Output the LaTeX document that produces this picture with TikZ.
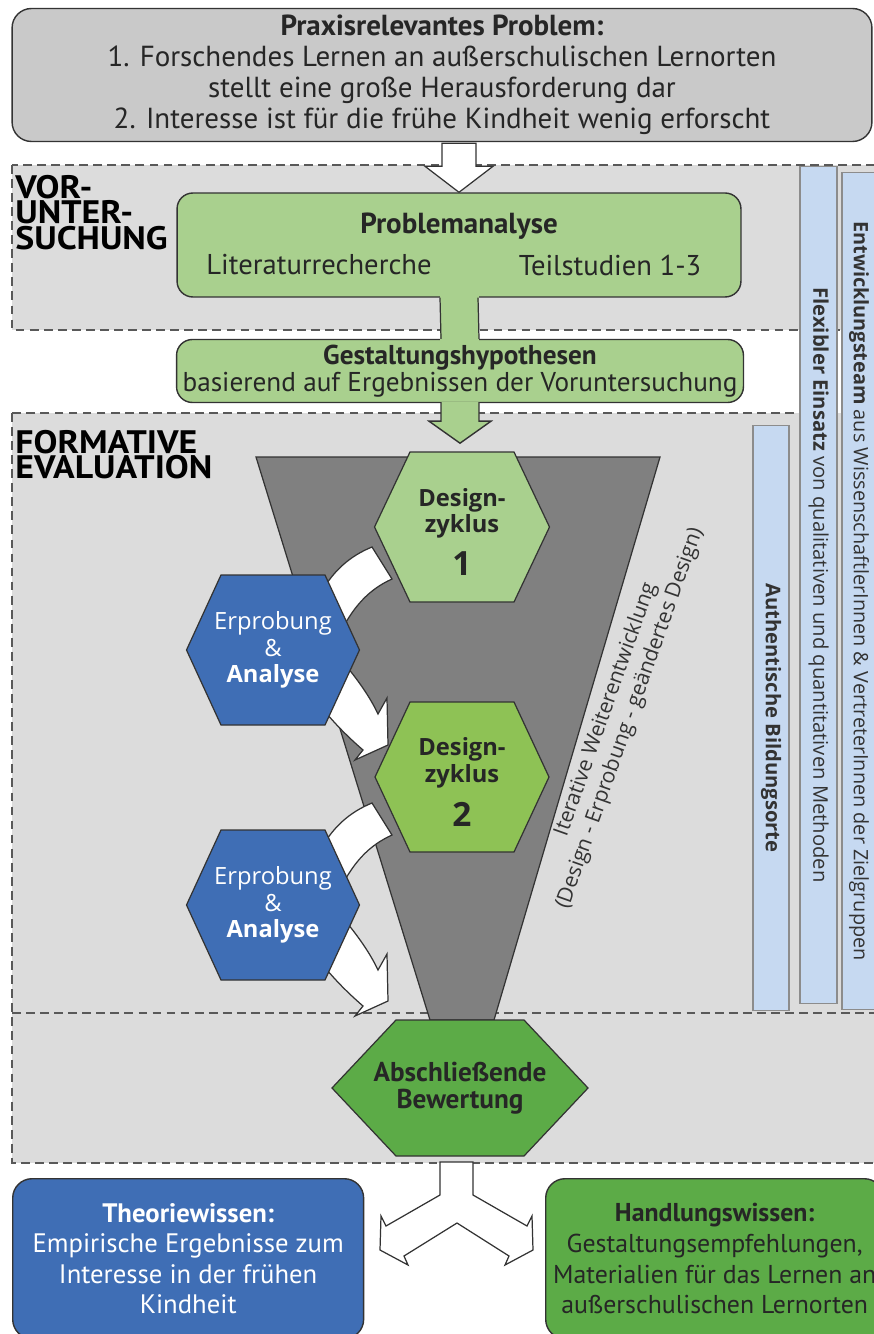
\documentclass[tikz,border=0pt]{standalone}
\usepackage{fontspec}
\setmainfont{PT Sans}
\newfontfamily\hexfont{Open Sans}
\usetikzlibrary{calc,positioning}

\definecolor{boxgray}{HTML}{C9C9C9}
\definecolor{regiongray}{HTML}{DCDCDC}
\definecolor{lightgreen}{HTML}{A9D08E}
\definecolor{midgreen}{HTML}{8EC255}
\definecolor{darkgreen}{HTML}{5CAB47}
\definecolor{hexblue}{HTML}{3F6EB5}
\definecolor{barblue}{HTML}{C6D9F1}
\definecolor{funnelgray}{HTML}{808080}

\begin{document}
\begin{tikzpicture}
  [x=0.02cm,y=-0.02cm,
   region/.style={fill=regiongray,draw=black!65,dash pattern=on 5pt off 3pt,line width=0.7pt},
   phaselabel/.style={anchor=north west,align=left,inner sep=0pt,xscale=1.1,transform shape,
     font=\bfseries\fontsize{18.5}{14.4}\selectfont},
   roundbox/.style={draw=black!80,line width=0.8pt,rounded corners=11pt,align=center,inner sep=0pt,text=black!85},
   hexline/.style={draw=black!80,line width=0.7pt},
   hextext/.style={align=center,font=\hexfont\fontsize{13.5}{15}\selectfont},
   whitearrow/.style={fill=white,draw=black!80,line width=0.7pt},
   greenarrow/.style={fill=lightgreen,draw=black!80,line width=0.8pt},
   sidebar/.style={fill=barblue,draw=black!45,line width=0.6pt,inner sep=0pt,rotate=-90,
     font=\hexfont\fontsize{11.5}{13}\selectfont,text=black!80}]
  \useasboundingbox (0,0) rectangle (874,1334);
  \clip (0,0) rectangle (874,1334);

  % phases
  \draw[region] (12,165) rectangle (890,330);
  \draw[region] (12,413) rectangle (890,1163);
  \draw[region] (12,1013) -- (890,1013);
  \node[phaselabel] (vu) at (15,175) {VOR-\\UNTER-\\SUCHUNG};
  \node[phaselabel] (fe) at (15,430) {FORMATIVE\\EVALUATION};

  % problem and analysis
  \node[roundbox,fill=boxgray,minimum width=17.2cm,minimum height=2.66cm,font=\fontsize{16.5}{17.6}\selectfont] (prob) at (442,75)
    {\textbf{Praxisrelevantes Problem:}\\1. Forschendes Lernen an außerschulischen Lernorten\\stellt eine große Herausforderung dar\\2. Interesse ist für die frühe Kindheit wenig erforscht};
  \node[roundbox,fill=lightgreen,rounded corners=9pt,minimum width=11.28cm,minimum height=2.08cm] (pa) at (459,245) {};
  \node[font=\bfseries\fontsize{16.5}{18}\selectfont,text=black!85] (pat) at (459,226) {Problemanalyse};
  \node[font=\fontsize{16.3}{18}\selectfont,text=black!85] (lit) at (319,265) {Literaturrecherche};
  \node[font=\fontsize{16.3}{18}\selectfont,text=black!85] (teil) at (610,265) {Teilstudien 1-3};
  \node[roundbox,fill=lightgreen,rounded corners=9pt,minimum width=11.34cm,minimum height=1.26cm,font=\fontsize{15.5}{15.5}\selectfont] (gh) at (460,371)
    {\textbf{Gestaltungshypothesen}\\basierend auf Ergebnissen der Voruntersuchung};

  \draw[whitearrow] (pa.north) -- ++(-34,-26) -- ++(17,0) -- ($(pa.north |- prob.south)+(-17,1)$)
    -- ($(pa.north |- prob.south)+(17,1)$) -- ($(pa.north)+(17,-26)$) -- ++(17,0) -- cycle;
  \fill[lightgreen] ($(pa.south)+(-19,-2)$) rectangle ($(gh.north)+(19,2)$);
  \draw[hexline] ($(pa.south)+(-19,0)$) -- ($(gh.north)+(-19,0)$) ($(pa.south)+(19,0)$) -- ($(gh.north)+(19,0)$);
  \draw[greenarrow] ($(gh.south)+(-19,-1)$) -- ($(gh.south)+(-19,18)$) -- ($(gh.south)+(-31,18)$) -- ($(gh.south)+(0,40)$)
    -- ($(gh.south)+(31,18)$) -- ($(gh.south)+(19,18)$) -- ($(gh.south)+(19,-1)$);

  % funnel
  \draw[fill=funnelgray,draw=black!80,line width=0.7pt] (256,457) -- (660,457) -- (494,1020) -- (430,1020) -- cycle;
  \node[rotate=70.5,align=center,font=\hexfont\fontsize{12}{14.5}\selectfont,text=black!80] (iter) at (618,714)
    {Iterative Weiterentwicklung\\(Design - Erprobung - geändertes Design)};

  % cycle arrows
  \foreach \dy in {0,256}
  {
    \begin{scope}[shift={(0,\dy)}]
      \draw[whitearrow] (372,547) .. controls (350,556) and (332,571) .. (318,598) -- (337,640)
        .. controls (352,606) and (370,589) .. (392,579) -- cycle;
      \draw[whitearrow] (343,662) .. controls (358,680) and (370,697) .. (378,714) -- (387,698) -- (388,745)
        -- (355,760) -- (363,750) .. controls (348,737) and (335,724) .. (322,708) -- cycle;
    \end{scope}
  }

  % hexagons
  \foreach \n/\x/\y/\w/\t/\h/\c in {dz1/462/527/87.5/52/75/lightgreen,ea1/273/650/86.5/52/75/hexblue,
      dz2/462/777/87/52/75/midgreen,ea2/273/905/86.5/52/75/hexblue,ab/460/1088/128/64/68/darkgreen}
  {
    \coordinate (\n) at (\x,\y);
    \draw[hexline,fill=\c] (\n) +(-\w,0) -- +(-\t,-\h) -- +(\t,-\h) -- +(\w,0) -- +(\t,\h) -- +(-\t,\h) -- cycle;
  }
  \node[hextext,text=black!85] (dz1t) at ($(dz1)+(0,5)$) {\textbf{Design-}\\\textbf{zyklus}\\[7pt]{\fontsize{19}{19}\selectfont\textbf{1}}};
  \node[hextext,text=white] (ea1t) at (ea1) {Erprobung\\\&\\\textbf{Analyse}};
  \node[hextext,text=black!85] (dz2t) at ($(dz2)+(0,5)$) {\textbf{Design-}\\\textbf{zyklus}\\[7pt]{\fontsize{19}{19}\selectfont\textbf{2}}};
  \node[hextext,text=white] (ea2t) at (ea2) {Erprobung\\\&\\\textbf{Analyse}};
  \node[align=center,font=\bfseries\fontsize{15.5}{15.5}\selectfont,text=black!85] (abt) at (ab) {Abschließende\\Bewertung};

  % results
  \draw[whitearrow] (440,1162) -- (473,1162) -- (473,1195) -- (527,1226) -- (532,1216) -- (533,1250) -- (505,1265)
    -- (509,1256) -- (457,1223) -- (404,1256) -- (408,1265) -- (380,1250) -- (381,1216) -- (386,1226) -- (440,1195) -- cycle;
  \node[roundbox,fill=hexblue,text=white,anchor=north west,minimum width=7.02cm,minimum height=3.2cm,font=\fontsize{15.2}{17.4}\selectfont] (theo) at (12,1178)
    {\textbf{Theoriewissen:}\\Empirische Ergebnisse zum\\Interesse in der frühen\\Kindheit};
  \node[roundbox,fill=darkgreen,anchor=north west,minimum width=6.76cm,minimum height=3.2cm,font=\fontsize{14.7}{17.4}\selectfont] (hand) at (545,1178)
    {\textbf{Handlungswissen:}\\Gestaltungsempfehlungen,\\Materialien für das Lernen an\\außerschulischen Lernorten};

  % side bars
  \node[sidebar,minimum width=16.74cm,minimum height=0.68cm,font=\hexfont\fontsize{11.3}{13}\selectfont] (ent) at (859,591)
    {\textbf{Entwicklungsteam} aus WissenschaftlerInnen \& VertreterInnen der Zielgruppen};
  \node[sidebar,minimum width=16.74cm,minimum height=0.74cm] (flex) at (818.5,585)
    {\textbf{Flexibler Einsatz} von qualitativen und quantitativen Methoden};
  \node[sidebar,minimum width=11.72cm,minimum height=0.72cm] (auth) at (771,718)
    {\textbf{Authentische Bildungsorte}};
\end{tikzpicture}
\end{document}
